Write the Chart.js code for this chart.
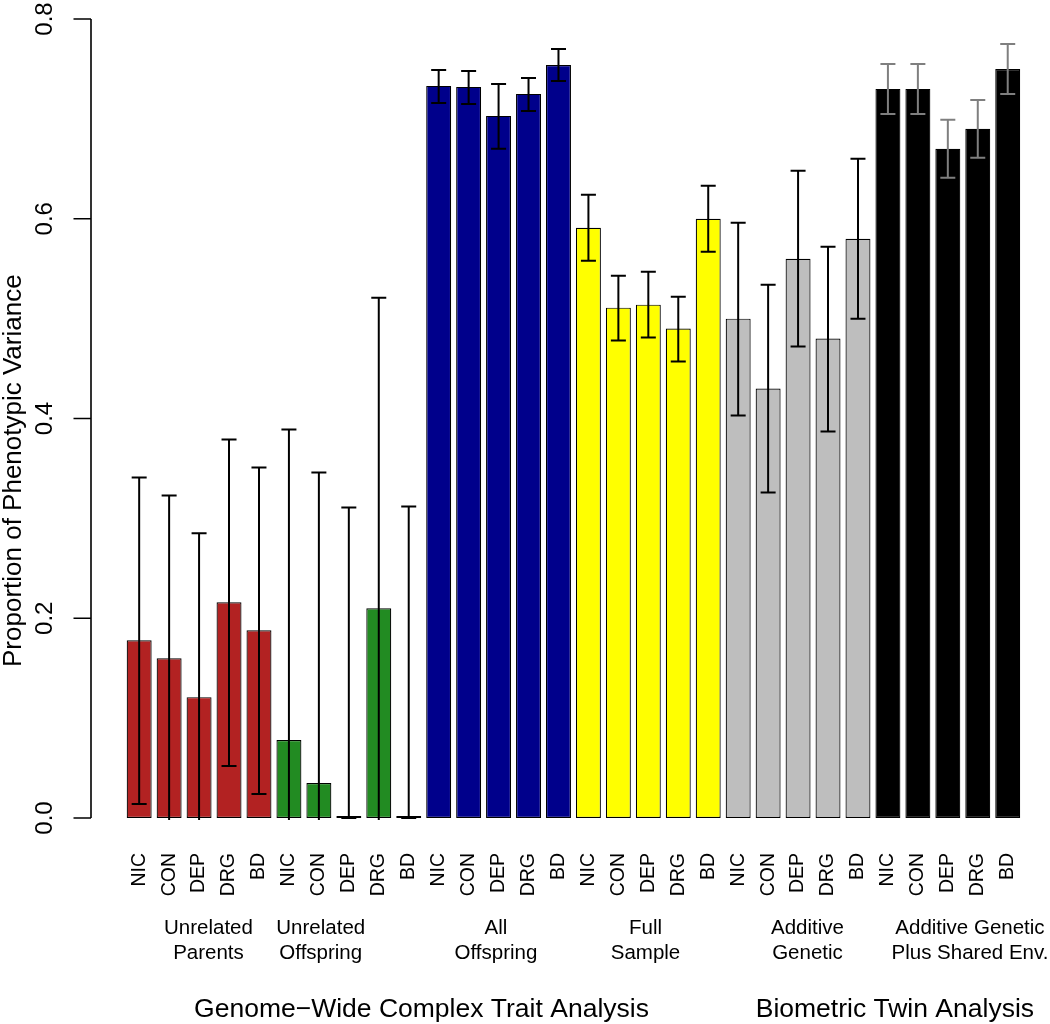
<!DOCTYPE html>
<html>
<head>
<meta charset="utf-8">
<script src="https://cdn.jsdelivr.net/npm/chart.js@4/dist/chart.umd.min.js"></script>
<style>
  html, body { margin: 0; padding: 0; background: #fff; }
  #wrap { position: relative; width: 1050px; height: 1024px; }
</style>
</head>
<body>
<div id="wrap"><canvas id="c" width="1050" height="1024"></canvas></div>
<script>
// ---------------- data ----------------
const traits = ['NIC', 'CON', 'DEP', 'DRG', 'BD'];
const groupNames = [
  ['Unrelated', 'Parents'],
  ['Unrelated', 'Offspring'],
  ['All', 'Offspring'],
  ['Full', 'Sample'],
  ['Additive', 'Genetic'],
  ['Additive Genetic', 'Plus Shared Env.']
];
const analysisNames = ['Genome\u2212Wide Complex Trait Analysis', 'Biometric Twin Analysis'];

const estimates = [
  0.178, 0.160, 0.121, 0.216, 0.188,
  0.078, 0.035, 0.000, 0.210, 0.000,
  0.733, 0.732, 0.703, 0.725, 0.754,
  0.591, 0.511, 0.514, 0.490, 0.600,
  0.500, 0.430, 0.560, 0.480, 0.580,
  0.730, 0.730, 0.670, 0.690, 0.750
];
const ciLower = [
  0.014, -0.003, -0.043, 0.052, 0.024,
  -0.233, -0.276, 0.000, -0.101, 0.000,
  0.716, 0.715, 0.670, 0.708, 0.738,
  0.558, 0.478, 0.481, 0.457, 0.567,
  0.403, 0.326, 0.472, 0.387, 0.500,
  0.705, 0.705, 0.641, 0.661, 0.725
];
const ciUpper = [
  0.341, 0.323, 0.285, 0.379, 0.351,
  0.389, 0.346, 0.311, 0.521, 0.312,
  0.749, 0.748, 0.735, 0.741, 0.770,
  0.624, 0.543, 0.547, 0.522, 0.633,
  0.596, 0.534, 0.648, 0.572, 0.660,
  0.755, 0.755, 0.699, 0.719, 0.775
];
const yTickValues = [0, 0.2, 0.4, 0.6, 0.8];
const yTickLabels = ['0.0', '0.2', '0.4', '0.6', '0.8'];
const yTitle = 'Proportion of Phenotypic Variance';

// ---------------- layout / style ----------------
const groupColors = ['#B22222', '#228B22', '#00008B', '#FFFF00', '#BEBEBE', '#000000'];
const errorColors = ['#000000', '#000000', '#000000', '#000000', '#000000', '#7F7F7F'];
const groupLabelAt = [2.314, 6.063, 11.913, 16.905, 22.314, 27.739];   // in category units
const analysisLabelAt = [9.426, 25.232];                              // in category units
const FONT = '"Liberation Sans", Arial, Helvetica, sans-serif';

const categories = groupNames.flatMap(() => traits);
const barColors = categories.map((_, i) => groupColors[Math.floor(i / traits.length)]);

function drawText(ctx, s, x, y, size, rot, align, base) {
  ctx.save();
  ctx.translate(x, y);
  if (rot) ctx.rotate(rot);
  ctx.font = size + 'px ' + FONT;
  ctx.textAlign = align || 'center';
  ctx.textBaseline = base || 'alphabetic';
  ctx.fillStyle = '#000';
  ctx.fillText(s, 0, 0);
  ctx.restore();
}

const decorPlugin = {
  id: 'decor',
  afterDatasetsDraw(chart) {
    const ctx = chart.ctx;
    const xs = chart.scales.x, ys = chart.scales.y;
    const area = chart.chartArea;
    // error bars
    ctx.save();
    ctx.beginPath();
    ctx.rect(area.left - 20, area.top - 2, area.right - area.left + 40, area.bottom - area.top + 4);
    ctx.clip();
    ctx.lineWidth = 2;
    ctx.lineCap = 'butt';
    const capHalf = 7.5;
    for (let i = 0; i < estimates.length; i++) {
      const x = xs.getPixelForValue(i);
      const yl = ys.getPixelForValue(ciLower[i]);
      const yh = ys.getPixelForValue(ciUpper[i]);
      ctx.strokeStyle = errorColors[Math.floor(i / traits.length)];
      ctx.beginPath();
      ctx.moveTo(x, yl);
      ctx.lineTo(x, yh);
      if (ciUpper[i] <= ys.max) { ctx.moveTo(x - capHalf, yh); ctx.lineTo(x + capHalf, yh); }
      if (ciLower[i] >= ys.min) { ctx.moveTo(x - capHalf, yl); ctx.lineTo(x + capHalf, yl); }
      ctx.stroke();
    }
    ctx.restore();
  },
  afterDraw(chart) {
    const ctx = chart.ctx;
    const xs = chart.scales.x, ys = chart.scales.y;
    const area = chart.chartArea;
    // y axis (R style, detached)
    const axX = 91;
    ctx.save();
    ctx.strokeStyle = '#000';
    ctx.lineWidth = 1.6;
    ctx.beginPath();
    ctx.moveTo(axX, ys.getPixelForValue(yTickValues[0]));
    ctx.lineTo(axX, ys.getPixelForValue(yTickValues[yTickValues.length - 1]));
    yTickValues.forEach(v => {
      const y = ys.getPixelForValue(v);
      ctx.moveTo(axX - 17.5, y);
      ctx.lineTo(axX, y);
    });
    ctx.stroke();
    ctx.restore();
    yTickValues.forEach((v, k) => {
      drawText(ctx, yTickLabels[k], 51.5, ys.getPixelForValue(v), 24, -Math.PI / 2, 'center', 'alphabetic');
    });
    // y title
    drawText(ctx, yTitle, 21, 667, 26, -Math.PI / 2, 'left', 'alphabetic');
    // group labels
    groupNames.forEach((lines, g) => {
      const x = xs.getPixelForValue(groupLabelAt[g]);
      drawText(ctx, lines[0], x, area.bottom + 116, 20.5, 0, 'center', 'alphabetic');
      drawText(ctx, lines[1], x, area.bottom + 140.5, 20.5, 0, 'center', 'alphabetic');
    });
    // analysis labels
    analysisNames.forEach((s, k) => {
      const x = xs.getPixelForValue(analysisLabelAt[k]);
      drawText(ctx, s, x, area.bottom + 199, 26.5, 0, 'center', 'alphabetic');
    });
  }
};

Chart.defaults.font.family = FONT;

new Chart(document.getElementById('c'), {
  type: 'bar',
  data: {
    labels: categories,
    datasets: [{
      data: estimates,
      backgroundColor: barColors,
      borderColor: '#000',
      borderWidth: 1.2,
      borderSkipped: false,
      minBarLength: 2,
      clip: false,
      barPercentage: 1 / 1.2,
      categoryPercentage: 1
    }]
  },
  options: {
    responsive: false,
    animation: false,
    devicePixelRatio: 1,
    layout: { padding: { left: 124.2, right: 27.3, top: 19, bottom: 0 } },
    plugins: { legend: { display: false }, tooltip: { enabled: false } },
    scales: {
      x: {
        type: 'category',
        offset: true,
        grid: { display: false, drawTicks: false },
        border: { display: false },
        ticks: {
          autoSkip: false,
          minRotation: 90,
          maxRotation: 90,
          padding: 35,
          color: '#000',
          font: { size: 19.5, family: FONT }
        },
        afterFit(scale) {
          scale.height = 206;
          scale.paddingLeft = 0;
          scale.paddingRight = 0;
        }
      },
      y: {
        display: false,
        min: 0,
        max: 0.8
      }
    }
  },
  plugins: [decorPlugin]
});
</script>
</body>
</html>
